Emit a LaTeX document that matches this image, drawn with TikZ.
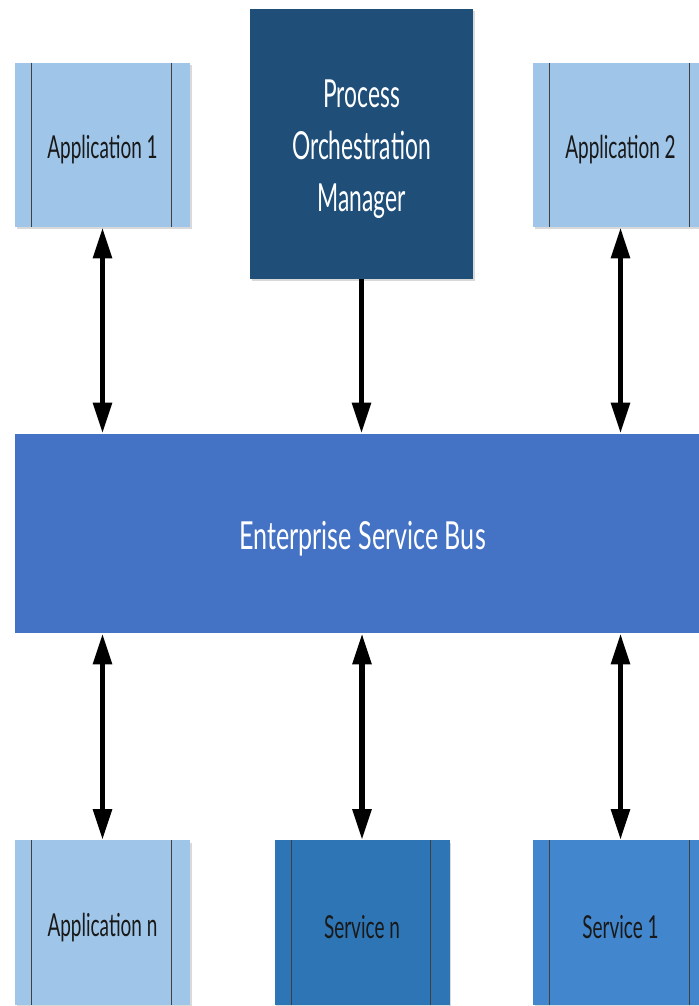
\documentclass[tikz,border=0pt]{standalone}
\usepackage{fontspec}
\setmainfont{Lato}
\usepackage{graphicx}
\usetikzlibrary{arrows.meta,positioning,shadows}
\definecolor{applight}{HTML}{9FC5E8}
\definecolor{pomdark}{HTML}{1F4E79}
\definecolor{busblue}{HTML}{4472C4}
\definecolor{srvdark}{HTML}{2E75B6}
\definecolor{srvmid}{HTML}{4287CD}
\newcommand{\narrow}[2][0.6]{\raisebox{-0.1cm}[\height][\depth]{\scalebox{#1}[1]{#2}}}

\begin{document}
\begin{tikzpicture}[
  box/.style={minimum width=3.5cm, minimum height=3.28cm, inner sep=0pt,
    drop shadow={opacity=0.3, shadow xshift=0.03cm, shadow yshift=-0.05cm},
    font=\fontsize{18}{22}\selectfont, text=black!90},
  link/.style={line width=3.2pt, {Triangle[length=0.62cm,width=0.36cm]}-{Triangle[length=0.62cm,width=0.36cm]}}
]
  \useasboundingbox (0,0) rectangle (13.98,20.12);
  \clip (0,0) rectangle (13.98,20.12);
  % Top row
  \node[box, fill=applight] (app1) at (2.05,17.22) {\narrow{Application 1}};
  \node[box, fill=pomdark, minimum width=4.46cm, minimum height=5.4cm, text=white,
    align=center, font=\fontsize{22}{29.5}\selectfont] (pom) at (7.23,17.24)
    {\narrow[0.59]{Process}\\\narrow[0.59]{Orchestration}\\\narrow[0.59]{Manager}};
  \node[box, fill=applight] (app2) at (12.41,17.22) {\narrow{Application 2}};
  % Bus
  \node[fill=busblue, minimum width=13.9cm, minimum height=3.98cm, text=white,
    font=\fontsize{22}{26}\selectfont] (esb) at (7.25,9.45) {\narrow[0.65]{Enterprise Service Bus}};
  % Bottom row
  \node[box, fill=applight] (appn) at (2.05,1.67) {\narrow{Application n}};
  \node[box, fill=srvdark] (srvn) at (7.24,1.67) {\narrow{Service n}};
  \node[box, fill=srvmid] (srv1) at (12.41,1.67) {\narrow{Service 1}};
  % Side bars
  \foreach \n in {app1,app2,appn,srvn,srv1}
    \draw[black!75, line width=0.5pt]
      ([xshift=0.34cm]\n.north west) -- ([xshift=0.34cm]\n.south west)
      ([xshift=-0.38cm]\n.north east) -- ([xshift=-0.38cm]\n.south east);
  % Connectors
  \draw[link] (app1.south) -- (app1.south |- esb.north);
  \draw[link] (app2.south) -- (app2.south |- esb.north);
  \draw[line width=3.2pt, -{Triangle[length=0.62cm,width=0.36cm]}] (pom.south) -- (pom.south |- esb.north);
  \draw[link] (esb.south -| appn.north) -- (appn.north);
  \draw[link] (esb.south -| srvn.north) -- (srvn.north);
  \draw[link] (esb.south -| srv1.north) -- (srv1.north);
\end{tikzpicture}
\end{document}
